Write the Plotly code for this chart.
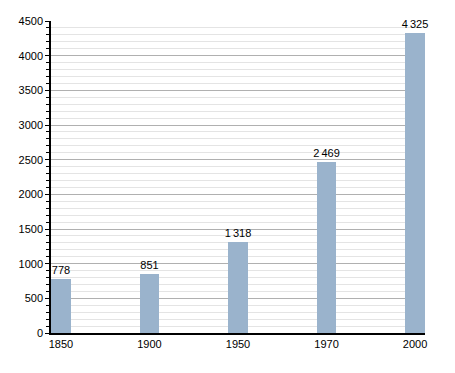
import plotly.graph_objects as go

years = ["1850", "1900", "1950", "1970", "2000"]
population = [778, 851, 1318, 2469, 4325]
y_ticks = [0, 500, 1000, 1500, 2000, 2500, 3000, 3500, 4000, 4500]

labels = [f"{v:,}".replace(",", "\u2009") for v in population]
xpos = list(range(len(years)))
w = 0.225

fig = go.Figure(go.Bar(
    x=xpos, y=population, width=w,
    marker=dict(color="#9ab3cc", line=dict(width=0)),
    text=labels, textposition="outside", cliponaxis=False,
    textfont=dict(size=11, color="#000000", family="Liberation Sans, Arial, sans-serif"),
))

fig.update_layout(
    width=455, height=373,
    margin=dict(l=51, r=30, t=21, b=40),
    paper_bgcolor="white", plot_bgcolor="white",
    showlegend=False,
    font=dict(family="Liberation Sans, Arial, sans-serif", size=11, color="#000000"),
    bargap=0,
    uniformtext=dict(minsize=11, mode="show"),
)
fig.update_xaxes(
    range=[-w / 2, len(years) - 1 + w / 2],
    tickmode="array", tickvals=xpos, ticktext=years,
    showline=True, linecolor="black", linewidth=1.5,
    showgrid=False, ticks="", zeroline=False,
    tickfont=dict(size=11),
)
fig.update_yaxes(
    range=[0, 4500],
    tickmode="array", tickvals=y_ticks,
    showline=True, linecolor="black", linewidth=1.5,
    ticks="outside", ticklen=4, tickcolor="black", tickwidth=1,
    showgrid=True, gridcolor="#b0b0b0", gridwidth=1,
    zeroline=False,
    minor=dict(dtick=100, ticks="outside", ticklen=3, tickcolor="black",
               showgrid=True, gridcolor="#e4e4e4", gridwidth=1),
    tickfont=dict(size=11),
)

fig.write_html("out.html")
